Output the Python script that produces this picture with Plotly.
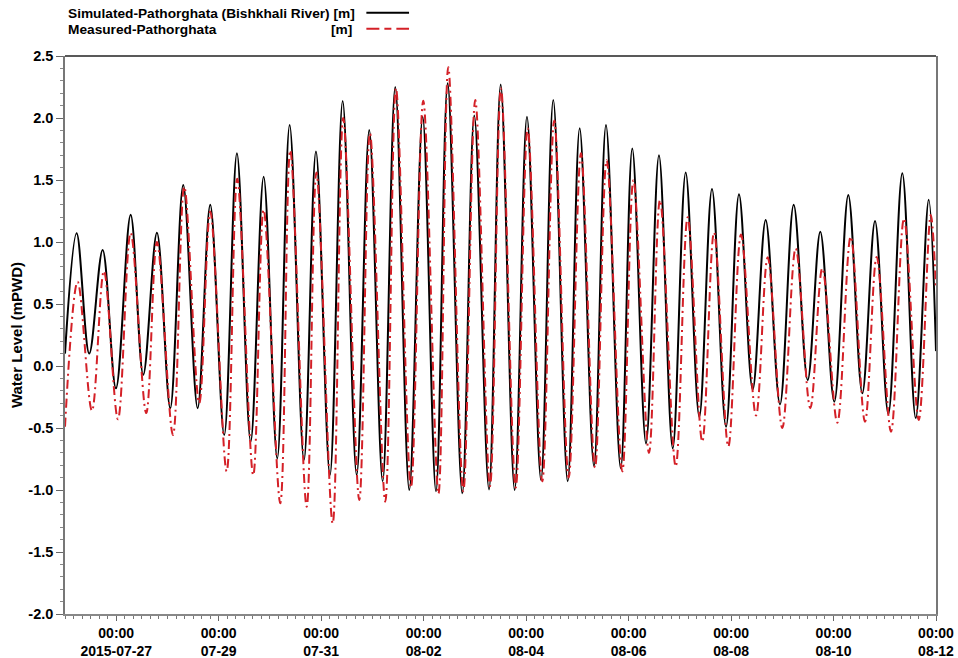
import plotly.graph_objects as go

# Simulated water level at Pathorghata (Bishkhali River): high / low water turning points
sim_time = [
    "2015-07-26 00:00", "2015-07-26 05:27", "2015-07-26 11:21", "2015-07-26 17:38",
    "2015-07-26 23:52", "2015-07-27 06:45", "2015-07-27 12:39", "2015-07-27 19:04",
    "2015-07-28 01:18", "2015-07-28 07:23", "2015-07-28 14:08", "2015-07-28 20:02",
    "2015-07-29 02:35", "2015-07-29 08:32", "2015-07-29 14:58", "2015-07-29 21:03",
    "2015-07-30 03:25", "2015-07-30 09:14", "2015-07-30 15:56", "2015-07-30 21:33",
    "2015-07-31 04:07", "2015-07-31 10:04", "2015-07-31 16:37", "2015-07-31 22:31",
    "2015-08-01 04:48", "2015-08-01 10:42", "2015-08-01 17:16", "2015-08-01 23:32",
    "2015-08-02 05:46", "2015-08-02 11:15", "2015-08-02 18:05", "2015-08-02 23:43",
    "2015-08-03 06:36", "2015-08-03 12:05", "2015-08-03 18:38", "2015-08-04 00:24",
    "2015-08-04 06:58", "2015-08-04 12:43", "2015-08-04 19:28", "2015-08-05 01:05",
    "2015-08-05 07:47", "2015-08-05 13:25", "2015-08-05 20:18", "2015-08-06 01:44",
    "2015-08-06 08:09", "2015-08-06 14:14", "2015-08-06 20:40", "2015-08-07 02:45",
    "2015-08-07 09:07", "2015-08-07 15:04", "2015-08-07 21:38", "2015-08-08 03:43",
    "2015-08-08 10:08", "2015-08-08 16:13", "2015-08-08 22:55", "2015-08-09 05:20",
    "2015-08-09 11:54", "2015-08-09 17:48", "2015-08-10 00:22", "2015-08-10 06:55",
    "2015-08-10 13:29", "2015-08-10 19:26", "2015-08-11 01:40", "2015-08-11 08:13",
    "2015-08-11 14:30", "2015-08-11 20:35", "2015-08-12 00:00",
]
sim_level = [
    0.10, 1.07, 0.10, 0.935,
    -0.18, 1.22, -0.07, 1.075,
    -0.34, 1.46, -0.34, 1.30,
    -0.556, 1.715, -0.61, 1.527,
    -0.745, 1.944, -0.758, 1.73,
    -0.88, 2.137, -0.88, 1.903,
    -0.93, 2.25, -1.00, 2.01,
    -1.01, 2.28, -1.027, 2.02,
    -0.995, 2.27, -1.00, 2.01,
    -0.92, 2.145, -0.93, 1.917,
    -0.806, 1.944, -0.825, 1.755,
    -0.624, 1.70, -0.664, 1.56,
    -0.41, 1.427, -0.49, 1.385,
    -0.19, 1.177, -0.31, 1.30,
    -0.113, 1.083, -0.288, 1.38,
    -0.22, 1.17, -0.387, 1.554,
    -0.42, 1.34, 0.12,
]

# Measured water level at Pathorghata: high / low water turning points
obs_time = [
    "2015-07-26 00:00", "2015-07-26 05:55", "2015-07-26 12:37", "2015-07-26 18:14",
    "2015-07-27 00:48", "2015-07-27 06:45", "2015-07-27 14:03", "2015-07-27 19:04",
    "2015-07-28 02:34", "2015-07-28 07:52", "2015-07-28 14:53", "2015-07-28 20:02",
    "2015-07-29 03:43", "2015-07-29 08:41", "2015-07-29 16:11", "2015-07-29 21:03",
    "2015-07-30 04:50", "2015-07-30 09:31", "2015-07-30 17:12", "2015-07-30 21:47",
    "2015-07-31 05:23", "2015-07-31 10:20", "2015-07-31 17:50", "2015-07-31 22:51",
    "2015-08-01 06:01", "2015-08-01 11:02", "2015-08-01 18:04", "2015-08-01 23:49",
    "2015-08-02 06:56", "2015-08-02 11:32", "2015-08-02 18:34", "2015-08-03 00:11",
    "2015-08-03 07:04", "2015-08-03 12:13", "2015-08-03 19:07", "2015-08-04 00:44",
    "2015-08-04 07:34", "2015-08-04 13:11", "2015-08-04 19:56", "2015-08-05 01:42",
    "2015-08-05 08:16", "2015-08-05 13:44", "2015-08-05 21:03", "2015-08-06 02:17",
    "2015-08-06 09:33", "2015-08-06 14:43", "2015-08-06 22:04", "2015-08-07 03:41",
    "2015-08-07 10:31", "2015-08-07 16:01", "2015-08-07 22:43", "2015-08-08 04:40",
    "2015-08-08 11:41", "2015-08-08 17:10", "2015-08-09 00:00", "2015-08-09 06:17",
    "2015-08-09 13:07", "2015-08-09 18:45", "2015-08-10 01:46", "2015-08-10 08:03",
    "2015-08-10 14:44", "2015-08-10 20:13", "2015-08-11 02:55", "2015-08-11 09:01",
    "2015-08-11 15:54", "2015-08-11 21:31", "2015-08-12 00:00",
]
obs_level = [
    -0.49, 0.68, -0.36, 0.765,
    -0.43, 1.075, -0.38, 1.00,
    -0.556, 1.446, -0.30, 1.245,
    -0.85, 1.51, -0.88, 1.26,
    -1.107, 1.74, -1.135, 1.56,
    -1.27, 2.00, -1.08, 1.877,
    -1.094, 2.24, -0.98, 2.14,
    -1.03, 2.41, -1.01, 2.145,
    -0.97, 2.24, -0.98, 1.92,
    -0.93, 1.98, -0.90, 1.715,
    -0.82, 1.66, -0.85, 1.50,
    -0.70, 1.34, -0.81, 1.20,
    -0.61, 1.078, -0.65, 1.06,
    -0.40, 0.877, -0.50, 0.949,
    -0.34, 0.788, -0.457, 1.043,
    -0.45, 0.88, -0.53, 1.19,
    -0.435, 1.218, 0.62,
]

# Axis tick labels
x_tickvals = ["2015-07-27", "2015-07-29", "2015-07-31", "2015-08-02", "2015-08-04",
              "2015-08-06", "2015-08-08", "2015-08-10", "2015-08-12"]
x_ticktext = ["00:00<br>2015-07-27", "00:00<br>07-29", "00:00<br>07-31", "00:00<br>08-02",
              "00:00<br>08-04", "00:00<br>08-06", "00:00<br>08-08", "00:00<br>08-10",
              "00:00<br>08-12"]
y_tickvals = [-2.0, -1.5, -1.0, -0.5, 0.0, 0.5, 1.0, 1.5, 2.0, 2.5]
y_ticktext = ["-2.0", "-1.5", "-1.0", "-0.5", "0.0", "0.5", "1.0", "1.5", "2.0", "2.5"]

sim_name = "Simulated-Pathorghata (Bishkhali River) [m]"
obs_name = "Measured-Pathorghata"
unit = "[m]"

FONT = "Liberation Sans, Arial, sans-serif"
BLACK = "#000000"
RED = "#d42027"
RED_DASH = "9px,4px,2px,4px"

fig = go.Figure()
fig.add_trace(go.Scatter(
    x=sim_time, y=sim_level, mode="lines", name=sim_name,
    line=dict(color=BLACK, width=2, shape="spline", smoothing=1.0),
))
fig.add_trace(go.Scatter(
    x=obs_time, y=obs_level, mode="lines", name=obs_name,
    line=dict(color=RED, width=2, shape="spline", smoothing=1.0, dash=RED_DASH),
))

# Legend drawn as text with the line sample on the right
legend_font = dict(family=FONT, size=13.7, color="#000000")
fig.add_annotation(xref="paper", yref="paper", x=0, y=1, xshift=1, yshift=43,
                   xanchor="left", yanchor="middle", showarrow=False,
                   text=f"<b>{sim_name}</b>", font=legend_font)
fig.add_annotation(xref="paper", yref="paper", x=0, y=1, xshift=1, yshift=27,
                   xanchor="left", yanchor="middle", showarrow=False,
                   text=f"<b>{obs_name}</b>", font=legend_font)
fig.add_annotation(xref="paper", yref="paper", x=0, y=1, xshift=289, yshift=27,
                   xanchor="right", yanchor="middle", showarrow=False,
                   text=f"<b>{unit}</b>", font=legend_font)
fig.add_shape(type="line", xref="paper", yref="paper",
              x0=0.346, x1=0.395, y0=1.0775, y1=1.0775,
              line=dict(color=BLACK, width=2))
fig.add_shape(type="line", xref="paper", yref="paper",
              x0=0.346, x1=0.395, y0=1.0488, y1=1.0488,
              line=dict(color=RED, width=2, dash="13px,5px,7px,5px"))
# top frame line
fig.add_shape(type="line", xref="paper", yref="paper", x0=0, x1=1, y0=1, y1=1,
              line=dict(color="#222222", width=1.5))

fig.update_layout(
    width=958, height=658,
    margin=dict(l=65, r=22, t=56, b=44),
    paper_bgcolor="white", plot_bgcolor="white",
    showlegend=False,
    font=dict(family=FONT, color="#000000"),
)
fig.update_xaxes(
    automargin=False,
    range=["2015-07-26 00:00", "2015-08-12 00:00"],
    tickmode="array", tickvals=x_tickvals, ticktext=[f"<b>{t}</b>" for t in x_ticktext],
    tickfont=dict(family=FONT, size=14, color="#000000"),
    ticks="outside", ticklen=5, tickcolor="#666666", tickwidth=1,
    minor=dict(dtick=4 * 3600 * 1000, tick0="2015-07-26", ticks="outside",
               ticklen=3, tickcolor="#777777", showgrid=False),
    showgrid=False, zeroline=False,
    showline=True, linecolor="#888888", linewidth=1.5, mirror=False,
)
fig.update_yaxes(
    automargin=False,
    range=[-2.0, 2.5],
    tickmode="array", tickvals=y_tickvals, ticktext=[f"<b>{t}</b>" for t in y_ticktext],
    tickfont=dict(family=FONT, size=14.5, color="#000000"),
    ticks="outside", ticklen=7, tickcolor="#666666", tickwidth=1,
    minor=dict(dtick=0.1, tick0=0, ticks="outside", ticklen=3,
               tickcolor="#888888", showgrid=False),
    showgrid=False, zeroline=False,
    showline=True, linecolor="#777777", linewidth=1.5, mirror=True,
    title=dict(text="<b>Water Level (mPWD)</b>",
               font=dict(family=FONT, size=15, color="#000000"), standoff=2),
)

fig.write_html("out.html")
